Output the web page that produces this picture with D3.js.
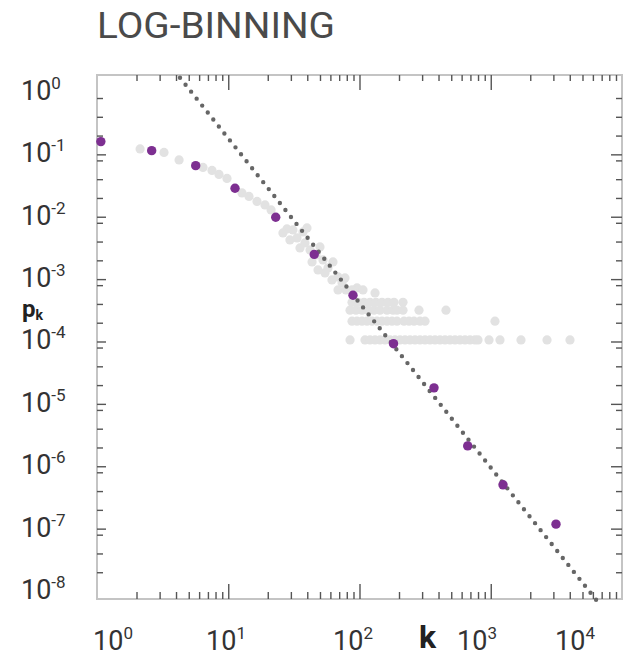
<!DOCTYPE html>
<html><head><meta charset="utf-8">
<script src="https://cdn.jsdelivr.net/npm/d3@7"></script>
<style>body{margin:0;background:#fff}svg{display:block}</style>
</head><body>
<svg id="c" width="627" height="658"></svg>
<script>
// ---- data ----
const title = "LOG-BINNING";
const xDecades = [1, 10, 100, 1000, 10000];
const xExps = ["0", "1", "2", "3", "4"];
const yDecades = [1, 1e-1, 1e-2, 1e-3, 1e-4, 1e-5, 1e-6, 1e-7, 1e-8];
const yExps = ["0", "-1", "-2", "-3", "-4", "-5", "-6", "-7", "-8"];
const xMinorMult = [2, 3, 4, 5, 6, 7, 8, 9];
const yMinorMult = [2, 4, 8];

// log-binned points (purple)
const binK = [1.07, 2.61, 5.65, 11.26, 23.0, 45.2, 89.2, 181.6, 369.5, 667.5, 1240, 3141];
const binP = [0.160, 0.1146, 0.0659, 0.02862, 0.00982, 0.002489, 5.52e-4, 9.22e-5, 1.805e-5, 2.12e-6, 5.04e-7, 1.18e-7];

// raw (linear binned) points, upper curve (grey)
const rawK = [2.13, 3.24, 4.22, 6.42, 7.52, 8.50, 9.78, 12.73, 14.39, 16.56, 19.05, 21.2,
  28.0, 31.1, 39.8, 26.1, 33.4, 35.2, 42.0, 50.0, 43.5, 52.7, 62.8, 54.6, 68.6, 61.7, 73.6, 68.6, 95.7, 106.3, 131.3,
  29.5, 38.4, 46.6, 57.5, 78.9, 48.3, 77.5, 87.7, 37.1];
const rawP = [0.1221, 0.1073, 0.0813, 0.0617, 0.0552, 0.0476, 0.0411, 0.02406, 0.02115, 0.01759, 0.01546, 0.01285,
  0.00638, 0.00614, 0.00661, 0.0055, 0.00457, 0.00316, 0.00294, 0.00328, 0.001887, 0.00203, 0.001887, 0.001257, 0.001085, 0.000971, 0.000869, 0.000671, 0.000723, 0.000671, 0.000601,
  0.004248, 0.0038, 0.002442, 0.001512, 0.000671, 0.001404, 0.001045, 0.000671, 0.005705];

// raw points on the low-count plateaus (1,2,3,4 nodes)
const rowP = [1.06e-4, 2.12e-4, 3.18e-4, 4.24e-4];
const row1K = [84.7, 110.1, 120.2, 131.3, 143.3, 156.4, 170.8, 186.4, 203.5, 222.2, 242.6, 264.8, 289.1, 315.5, 344.5, 376.1, 410.6, 448.2, 489.3, 534.2, 583.2, 636.7, 695.1, 758.6, 799.6, 970, 1176, 1700, 2683, 4016];
const row2K = [87.7, 95.7, 104.5, 114.1, 124.5, 135.9, 148.4, 162.0, 176.9, 193.1, 218.3, 238.4, 260.2, 289.1, 315.5, 1077];
const row3K = [84.7, 94.0, 104.5, 116.1, 129.0, 143.3, 162.0, 180.0, 193.1, 214.5, 284, 456];
const row4K = [87.7, 97.4, 108.2, 120.2, 133.6, 148.4, 164.9, 183.2, 214.5];

// power-law fit (dotted line) endpoints
const fitK = [4.29, 6413];
const fitP = [1.69, 7.05e-9];

// ---- drawing ----
const svg = d3.select("#c");
const L = 97, R = 622, T = 75, B = 599;
const x = d3.scaleLog().domain([1, 1e4]).range([L, R]);
const y = d3.scaleLog().domain([Math.pow(10, -8.128), Math.pow(10, 0.272)]).range([B, T]);
// label positions of the decade labels along the bottom (as laid out in the original figure)
const xLab = d3.scaleLog().domain(xDecades).range([113, 226, 353, 477, 575]);

const font = "Roboto, 'DejaVu Sans', sans-serif";

svg.append("text").attr("x", 97).attr("y", 38)
  .attr("font-family", font).attr("font-size", 36).attr("fill", "#4a4a4a")
  .attr("textLength", 238).attr("lengthAdjust", "spacingAndGlyphs")
  .text(title);

// frame
svg.append("rect").attr("x", L).attr("y", T).attr("width", R - L).attr("height", B - T)
  .attr("fill", "none").attr("stroke", "#c4c4c4").attr("stroke-width", 2);

const xMinor = [], yMinor = [];
xDecades.slice(0, -1).forEach(d => xMinorMult.forEach(m => xMinor.push(d * m)));
yDecades.slice(1).forEach(d => yMinorMult.forEach(m => yMinor.push(d * m)));

function ax(gen, vals, len, tr) {
  const g = svg.append("g").attr("transform", tr)
    .call(gen.tickValues(vals).tickSize(-len).tickFormat(""));
  g.select(".domain").remove();
  g.selectAll(".tick line").attr("stroke", "#555").attr("stroke-width", 1.4);
}
ax(d3.axisBottom(x), xMinor, 7, `translate(0,${B})`);
ax(d3.axisBottom(x), xDecades.slice(1, -1), 15, `translate(0,${B})`);
ax(d3.axisTop(x), xMinor, 6, `translate(0,${T})`);
ax(d3.axisTop(x), xDecades.slice(1, -1), 15, `translate(0,${T})`);
ax(d3.axisLeft(y), yMinor, 6, `translate(${L},0)`);
ax(d3.axisLeft(y), yDecades.slice(1, -1), 9, `translate(${L},0)`);
ax(d3.axisRight(y), yMinor, 6, `translate(${R},0)`);
ax(d3.axisRight(y), yDecades.slice(1, -1), 11, `translate(${R},0)`);

// tick labels
const xl = svg.append("g").attr("font-family", font).attr("fill", "#333");
xDecades.forEach((d, i) => {
  const t = xl.append("text").attr("x", xLab(d)).attr("y", 650).attr("text-anchor", "middle").attr("font-size", 27);
  t.append("tspan").text("10");
  t.append("tspan").attr("font-size", 17).attr("dy", -11).text(xExps[i]);
});
const yl = svg.append("g").attr("font-family", font).attr("fill", "#333");
yDecades.forEach((d, i) => {
  const t = yl.append("text").attr("x", 21).attr("y", y(d) + 8).attr("font-size", 27);
  t.append("tspan").text("10");
  t.append("tspan").attr("font-size", 17).attr("dy", -11).text(yExps[i]);
});

// axis titles
const pk = svg.append("text").attr("x", 22).attr("y", 317).attr("font-family", font)
  .attr("font-weight", "bold").attr("fill", "#222").attr("font-size", 24);
pk.append("tspan").text("p");
pk.append("tspan").attr("font-size", 14).attr("dy", 3).text("k");
svg.append("text").attr("x", 419).attr("y", 648).attr("font-family", font)
  .attr("font-weight", "bold").attr("fill", "#222").attr("font-size", 32).text("k");

// raw points
const raw = rawK.map((k, i) => [k, rawP[i]]);
[row1K, row2K, row3K, row4K].forEach((row, r) => row.forEach(k => raw.push([k, rowP[r]])));
svg.append("g").selectAll("circle").data(raw).join("circle")
  .attr("cx", d => x(d[0])).attr("cy", d => y(d[1])).attr("r", 4.6).attr("fill", "#e2e2e2");

// dotted fit line
svg.append("path")
  .attr("d", d3.line().x(d => x(d[0])).y(d => y(d[1]))(fitK.map((k, i) => [k, fitP[i]])))
  .attr("fill", "none").attr("stroke", "#666").attr("stroke-width", 4.4)
  .attr("stroke-linecap", "round").attr("stroke-dasharray", "0,8.9");

// log-binned points
svg.append("g").selectAll("circle").data(binK.map((k, i) => [k, binP[i]])).join("circle")
  .attr("cx", d => x(d[0])).attr("cy", d => y(d[1])).attr("r", 4.7).attr("fill", "#7d2f91");
</script>
</body></html>
